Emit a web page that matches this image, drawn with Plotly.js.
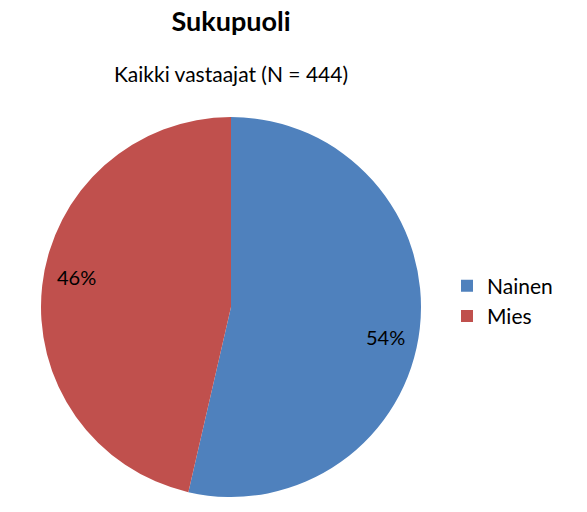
<!DOCTYPE html>
<html>
<head>
<meta charset="utf-8">
<script src="https://cdn.plot.ly/plotly-3.0.1.min.js"></script>
<style>
  html, body { margin: 0; padding: 0; background: #fff; }
  #graph { width: 587px; height: 512px; }
</style>
</head>
<body>
<div id="graph"></div>
<script>
// Sukupuoli: pie chart of respondents by gender (N = 444)

const labels = ["Nainen", "Mies"];
const values = [238, 206];
const colors = ["#4F81BD", "#C0504D"];
const chartTitle = "Sukupuoli";
const subTitle = "Kaikki vastaajat (N = 444)";

const fontFamily = "Lato, 'Open Sans', sans-serif";

// pie geometry in pixels
const W = 587;
const H = 512;
const cx = 231;
const cy = 307;
const R = 190;
const labelRadius = 0.83;
const labelTurn = 0.075; // small clockwise nudge, like the Excel label placement

const trace = {
  type: "pie",
  labels: labels,
  values: values,
  sort: false,
  direction: "clockwise",
  rotation: 0,
  marker: {
    colors: colors,
    line: { width: 0 },
  },
  textinfo: "none",
  hoverinfo: "label+percent",
  domain: {
    x: [(cx - R) / W, (cx + R) / W],
    y: [1 - (cy + R) / H, 1 - (cy - R) / H],
  },
};

// percent labels placed along each slice's middle angle
const total = values.reduce((a, b) => a + b, 0);
const pctAnnotations = [];
let cum = 0;
values.forEach((v) => {
  const mid = ((cum + v / 2) / total) * 2 * Math.PI + labelTurn;
  cum += v;
  pctAnnotations.push({
    text: Math.round((v / total) * 100) + "%",
    xref: "paper",
    yref: "paper",
    x: (cx + labelRadius * R * Math.sin(mid)) / W,
    y: 1 - (cy - labelRadius * R * Math.cos(mid)) / H,
    xanchor: "center",
    yanchor: "middle",
    showarrow: false,
    font: { family: fontFamily, size: 20, color: "#000" },
  });
});

const layout = {
  width: W,
  height: H,
  paper_bgcolor: "#fff",
  font: { family: fontFamily, color: "#000" },
  margin: { l: 0, r: 0, t: 0, b: 0 },
  title: {
    text: "<b>" + chartTitle + "</b>",
    font: { family: fontFamily, size: 27, color: "#000" },
    x: cx / W,
    xanchor: "center",
    y: 1 - 22 / H,
    yanchor: "middle",
  },
  annotations: [
    {
      text: subTitle,
      xref: "paper",
      yref: "paper",
      x: cx / W,
      y: 1 - 73 / H,
      xanchor: "center",
      yanchor: "middle",
      showarrow: false,
      font: { family: fontFamily, size: 21, color: "#000" },
    },
  ].concat(pctAnnotations),
  legend: {
    x: 447 / W,
    y: 1 - 301 / H,
    xanchor: "left",
    yanchor: "middle",
    font: { family: fontFamily, size: 21, color: "#000" },
    tracegroupgap: 0,
  },
  showlegend: true,
};

Plotly.newPlot("graph", [trace], layout, { displayModeBar: false, staticPlot: true });
</script>
</body>
</html>
